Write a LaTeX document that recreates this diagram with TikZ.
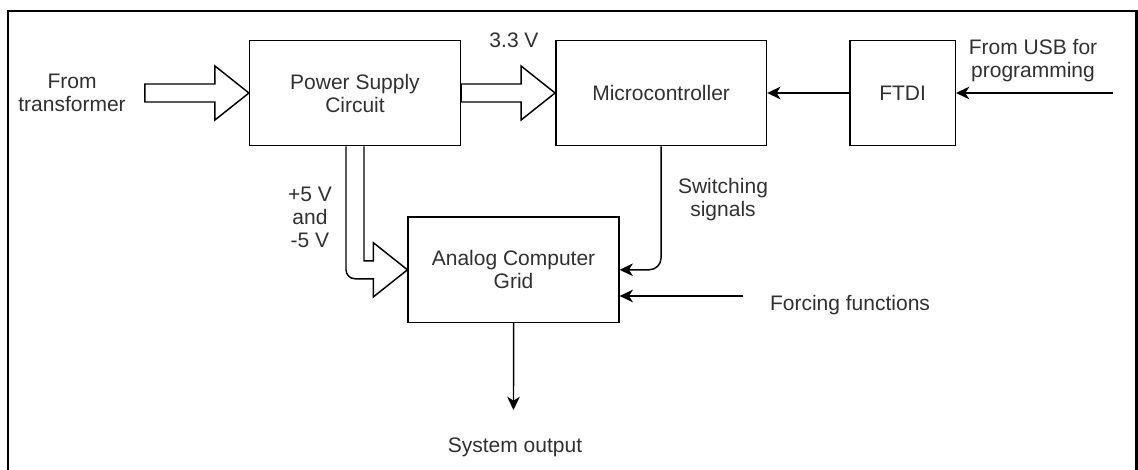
\documentclass[tikz,border=0pt]{standalone}
\usepackage{fontspec}
\setmainfont{Liberation Sans}
\usepackage{xcolor}
\usepackage{tikz}
\usetikzlibrary{arrows.meta,positioning,calc}
\definecolor{txtGray}{HTML}{303030}

\begin{document}
\begin{tikzpicture}[
  x=0.75pt, y=-0.75pt,
  font=\fontsize{15.75}{17.25}\selectfont, text=txtGray,
  blk/.style={draw, line width=1.1pt, align=center, minimum width=158pt, minimum height=79pt, inner sep=2pt},
  lbl/.style={align=center, inner sep=0pt},
  fat/.style={draw, fill=white, line width=1.1pt, line join=miter},
  sig/.style={-{Stealth[length=10pt, width=9.5pt, inset=3pt]}, line width=1.1pt}]
\useasboundingbox (0,0) rectangle (1138,470);
% outer frame
\draw[line width=2pt] (8,472) -- (8,11) -- (1136.5,11) -- (1136.5,472);
% blocks
\node[blk] (psc) at (355,93) {Power Supply\\Circuit};
\node[blk, right=70.5pt of psc] (mc) {Microcontroller};
\node[blk, right=61.5pt of mc, minimum width=79pt] (ftdi) {FTDI};
\node[blk, below=52.5pt of psc, xshift=118.9pt] (analog) {Analog Computer\\Grid};
% labels
\node[lbl] (fromtr) at (72,93) {From\\transformer};
\node[lbl] (volt33) at (514,40) {3.3 V};
\node[lbl] (fromusb) at (1033,61) {From USB for\\programming};
\node[lbl] (pm5) at (310,217) {+5 V\\and\\-5 V};
\node[lbl] (swsig) at (723,200) {Switching\\signals};
\node[lbl] (forcing) at (850,305) {Forcing functions};
\node[lbl] (sysout) at (515,447) {System output};
\coordinate (usbin) at (1113,93);
\coordinate (forcein) at (743,296);
\coordinate (outtip) at (513.5,410);
% fat power arrows
\draw[fat] (psc.west) -- ++(-34,-27) -- ++(0,18) -- ++(-70,0) -- ++(0,18) -- ++(70,0) -- ++(0,18) -- cycle;
\draw[fat] (mc.west) -- ++(-34,-27) -- ++(0,18) -- ($(psc.east)+(0,-9)$) -- ($(psc.east)+(0,9)$)
   -- ($(mc.west)+(-34,9)$) -- ++(0,18) -- cycle;
\draw[fat] ($(psc.south)+(-9,0)$) -- ($(psc.south |- analog.west)+(-9,0)$)
   arc[start angle=180, end angle=270, radius=6.75pt] -- ($(analog.west)+(-34,9)$) -- ++(0,18)
   -- (analog.west) -- ++(-34,-27) -- ++(0,18) -| ($(psc.south)+(9,0)$);
% signals
\draw[sig] (ftdi) -- (mc);
\draw[sig] (usbin) -- (ftdi);
\draw[sig, rounded corners=9pt] (mc.south) |- (analog.east);
\draw[sig] (forcein) -- (forcein -| analog.east);
\draw[sig] (analog.south) -- (outtip);
\end{tikzpicture}
\end{document}
